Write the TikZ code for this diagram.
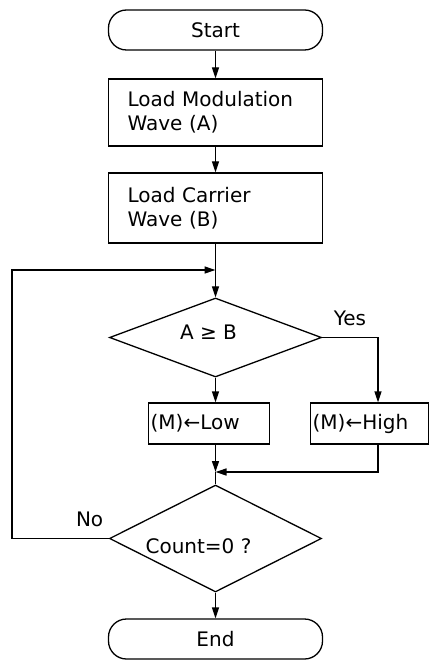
\documentclass[tikz,border=0pt]{standalone}
\usepackage{fontspec}
\setmainfont{DejaVu Sans}
\usetikzlibrary{shapes.geometric, arrows.meta, positioning}

\begin{document}
\begin{tikzpicture}[
    x=1pt, y=-1pt,
    font=\fontsize{20}{24}\selectfont,
    line width=1.3pt,
    term/.style={draw, rounded corners=18pt, minimum width=214pt, minimum height=40pt, inner sep=0pt},
    proc/.style={draw, minimum width=214pt, minimum height=67pt, text width=176pt, align=left, inner sep=0pt},
    setbox/.style={draw, anchor=west, minimum height=41pt, align=left, inner xsep=2pt},
    decision/.style={draw, diamond, minimum width=212pt, inner sep=0pt},
    arrow/.style={-{Triangle[length=11pt,width=7pt]}},
    lbl/.style={inner sep=2pt}
]
\useasboundingbox (0,0) rectangle (429,660);

% Main column
\node[term] (start) at (215.5,30) {Start};
\node[proc] (loadA) at (215.5,112.5) {Load Modulation\\Wave (A)};
\node[proc, minimum height=70pt] (loadB) at (215.5,208) {Load Carrier\\Wave (B)};
\node[decision, minimum height=79pt, label={[xshift=-7pt,yshift=5pt]center:A ≥ B}] (cmp) at (215.5,337.5) {};
\node[setbox, text width=117pt] (low) at (148,423.5) {(M)←Low};
\node[setbox, text width=114pt] (high) at (310,423.5) {(M)←High};
\node[decision, minimum height=107pt, label={[xshift=-17pt,yshift=-8pt]center:Count=0 ?}] (cnt) at (215.5,538.5) {};
\node[term] (end) at (215.5,639) {End};

% Branch labels
\node[lbl, above right=9pt and 9pt of cmp.east] {Yes};
\node[lbl, above left=9pt and 3pt of cnt.west] {No};

% Junctions
\coordinate (top) at (215.5,270);
\coordinate (join) at (215.5,472);
\coordinate (yesdrop) at (378,337.5);
\coordinate (loop) at (12,270);

% Connectors
\draw[arrow] (start) -- (loadA);
\draw[arrow] (loadA) -- (loadB);
\draw[arrow] (loadB) -- (cmp);
\draw[arrow] (cmp.south) -- (cmp.south |- low.north);
\draw[arrow] (cmp.east) -- (yesdrop) -- (yesdrop |- high.north);
\draw[arrow] (join |- low.south) -- (join);
\draw[arrow] (yesdrop |- high.south) |- (join);
\draw (join) -- (cnt.north);
\draw[arrow] (cnt.south) -- (end.north);
\draw[arrow] (cnt.west) -- (cnt.west -| loop) |- (top);

\end{tikzpicture}
\end{document}
